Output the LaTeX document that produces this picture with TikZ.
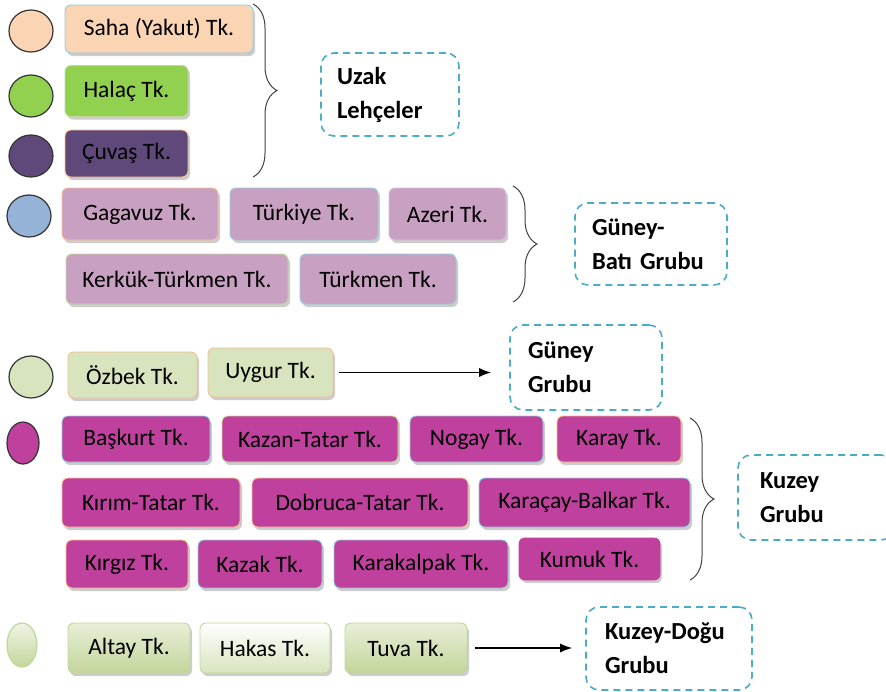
\documentclass[tikz,border=0pt]{standalone}
\usepackage{fontspec}
\setmainfont{Carlito}
\usetikzlibrary{arrows.meta,shadows,shapes.geometric,decorations.pathreplacing}

\definecolor{seftali}{RGB}{251,212,180}
\definecolor{yesil}{RGB}{146,208,80}
\definecolor{mor}{RGB}{95,73,122}
\definecolor{leylak}{RGB}{200,160,194}
\definecolor{mavi}{RGB}{149,179,215}
\definecolor{zeytin}{RGB}{215,228,189}
\definecolor{pembe}{RGB}{192,64,158}
\definecolor{kesik}{RGB}{75,172,198}
\definecolor{kmavi}{RGB}{146,205,220}
\definecolor{kturuncu}{RGB}{250,191,143}
\definecolor{kyesil}{RGB}{195,214,155}

\tikzset{
  lehce/.style={rectangle, rounded corners=6pt, line width=0.9pt, inner sep=0pt,
    font=\fontsize{23.5}{27}\selectfont,
    drop shadow={shadow xshift=2pt, shadow yshift=-3pt, fill=black!50, opacity=0.4}},
  grup/.style={rectangle, rounded corners=13pt, draw=kesik, line width=1.6pt,
    dash pattern=on 7pt off 5pt, align=left, inner ysep=0pt,
    font=\bfseries\fontsize{24.5}{34}\selectfont},
  daire/.style={ellipse, draw=black!80, line width=1.2pt, inner sep=0pt,
    minimum width=44pt, minimum height=42pt},
  parantez/.style={decorate, decoration={brace, amplitude=24pt}, draw=black!75, line width=1pt},
  ok/.style={-{Latex[length=12pt,width=9pt]}, line width=1.2pt}
}

\begin{document}
\begin{tikzpicture}[x=1pt, y=-1pt]
			%%%%% START %%%%%
			\useasboundingbox (0,0) rectangle (886,691);
			
			% uzak lehceler
			\node[daire, fill=seftali] (d1) at (31,31) {};
			\node[daire, fill=yesil] (d2) at (31,96) {};
			\node[daire, fill=mor] (d3) at (31,156) {};
			\node[lehce, fill=seftali, draw=kmavi, minimum width=188pt, minimum height=48pt] (saha) at (159,29) {Saha (Yakut) Tk.};
			\node[lehce, fill=yesil, draw=kyesil, minimum width=123pt, minimum height=51pt] (halac) at (126.5,91) {Halaç Tk.};
			\node[lehce, fill=mor, draw=kturuncu, minimum width=123pt, minimum height=47pt] (cuvas) at (126.5,153.5) {Çuvaş Tk.};
			\draw[parantez] (253,4) -- (253,177);
			\node[grup, inner xsep=16pt, text width=106pt, minimum height=83pt] (uzak) at (390,94.5) {Uzak\\Lehçeler};
			
			% guney-bati grubu
			\node[daire, fill=mavi] (d4) at (29,216) {};
			\node[lehce, fill=leylak, draw=kturuncu, minimum width=156pt, minimum height=52pt] (gagavuz) at (140,214) {Gagavuz Tk.};
			\node[lehce, fill=leylak, draw=kmavi, minimum width=148pt, minimum height=52pt] (turkiye) at (304,214) {Türkiye Tk.};
			\node[lehce, fill=leylak, draw=leylak!70, minimum width=117pt, minimum height=52pt] (azeri) at (447.5,214) {Azeri Tk.};
			\node[lehce, fill=leylak, draw=kyesil, minimum width=222pt, minimum height=50pt] (kerkuk) at (177,279) {Kerkük-Türkmen Tk.};
			\node[lehce, fill=leylak, draw=kmavi, minimum width=156pt, minimum height=50pt] (turkmen) at (378,279) {Türkmen Tk.};
			\draw[parantez] (513,186) -- (513,302);
			\node[grup, inner xsep=17pt, text width=118pt, minimum height=82pt] (gbati) at (651,244) {Güney-\\\mbox{Batı Grubu}};
			
			% guney grubu
			\node[daire, fill=zeytin] (d5) at (31,377) {};
			\node[lehce, fill=zeytin, draw=kturuncu, minimum width=129pt, minimum height=46pt] (ozbek) at (132.5,375) {Özbek Tk.};
			\node[lehce, fill=zeytin, draw=kturuncu, minimum width=125pt, minimum height=49pt] (uygur) at (270.5,372.5) {Uygur Tk.};
			\node[grup, inner xsep=18pt, text width=116pt, minimum height=85pt] (guney) at (586,367.5) {Güney\\Grubu};
			\draw[ok, shorten <=6pt, shorten >=18pt] (uygur.east) -- (uygur.east -| guney.west);
			
			% kuzey grubu
			\node[daire, fill=pembe, minimum width=32pt] (d6) at (23,443) {};
			\node[lehce, fill=pembe, draw=kmavi, minimum width=148pt, minimum height=46pt] (baskurt) at (136,439) {Başkurt Tk.};
			\node[lehce, fill=pembe, draw=kyesil, minimum width=176pt, minimum height=46pt] (kazan) at (310,439) {Kazan-Tatar Tk.};
			\node[lehce, fill=pembe, draw=kmavi, minimum width=133pt, minimum height=46pt] (nogay) at (476.5,439) {Nogay Tk.};
			\node[lehce, fill=pembe, draw=kturuncu, minimum width=124pt, minimum height=46pt] (karay) at (619,439) {Karay Tk.};
			\node[lehce, fill=pembe, draw=kturuncu, minimum width=178pt, minimum height=49pt] (kirim) at (151,502.5) {Kırım-Tatar Tk.};
			\node[lehce, fill=pembe, draw=kturuncu, minimum width=216pt, minimum height=49pt] (dobruca) at (360,502.5) {Dobruca-Tatar Tk.};
			\node[lehce, fill=pembe, draw=kmavi, minimum width=211pt, minimum height=49pt] (karacay) at (584.5,502.5) {Karaçay-Balkar Tk.};
			\node[lehce, fill=pembe, draw=kturuncu, minimum width=122pt, minimum height=48pt] (kirgiz) at (127,564) {Kırgız Tk.};
			\node[lehce, fill=pembe, draw=kmavi, minimum width=124pt, minimum height=48pt] (kazak) at (260,564) {Kazak Tk.};
			\node[lehce, fill=pembe, draw=kmavi, minimum width=174pt, minimum height=48pt] (karakalpak) at (421,564) {Karakalpak Tk.};
			\node[lehce, fill=pembe, draw=pembe, minimum width=141pt, minimum height=42pt] (kumuk) at (589.5,559) {Kumuk Tk.};
			\draw[parantez] (690,418) -- (690,580);
			\node[grup, inner xsep=22pt, text width=112pt, minimum height=85pt] (kuzey) at (816,497.5) {Kuzey\\Grubu};
			
			% kuzey-dogu grubu
			\node[daire, draw=kyesil, top color=zeytin!40!white, bottom color=kyesil, minimum width=30pt, minimum height=44pt] (d7) at (22,645) {};
			\node[lehce, top color=zeytin!60!white, bottom color=kyesil, draw=kyesil, minimum width=122pt, minimum height=50pt] (altay) at (129,648) {Altay Tk.};
			\node[lehce, top color=white, bottom color=zeytin, draw=kyesil, minimum width=130pt, minimum height=50pt] (hakas) at (265,648) {Hakas Tk.};
			\node[lehce, top color=zeytin!60!white, bottom color=kyesil, draw=kyesil, minimum width=122pt, minimum height=50pt] (tuva) at (406,648) {Tuva Tk.};
			\node[grup, inner xsep=19pt, text width=128pt, minimum height=83pt] (kdogu) at (669,648.5) {Kuzey-Doğu\\Grubu};
			\draw[ok, shorten <=8pt, shorten >=13pt] (tuva.east) -- (tuva.east -| kdogu.west);
			
			%%%%% END %%%%%
		\end{tikzpicture}
\end{document}
